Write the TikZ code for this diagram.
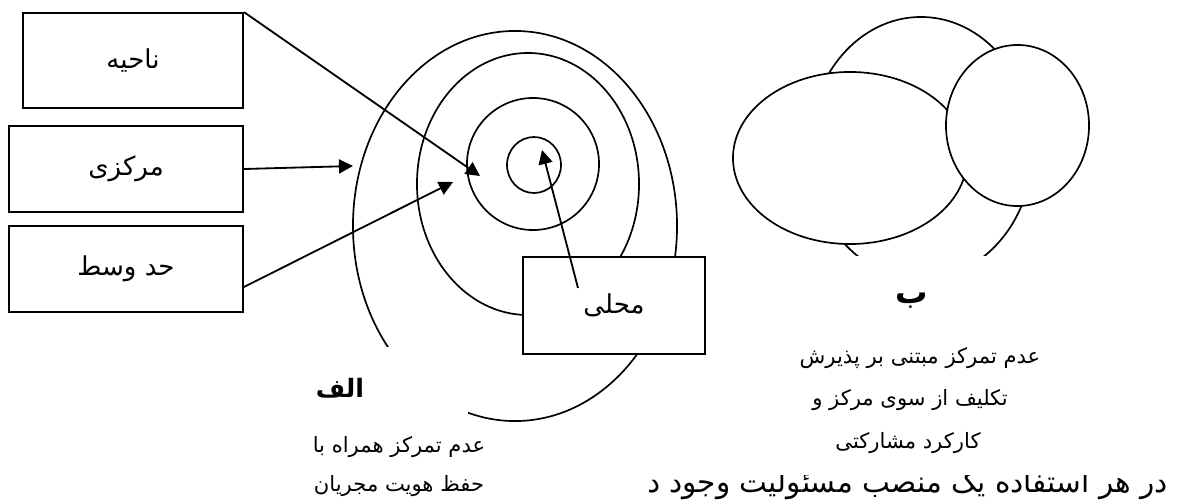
\documentclass[tikz,border=0pt]{standalone}
\usepackage{fontspec}
\usepackage{tikz}
\usetikzlibrary{arrows.meta, calc}
\TeXXeTstate=1
\newfontfamily\persianfont[Script=Arabic]{DejaVu Sans}
\tikzset{
  boxnode/.style={rectangle, draw=black, fill=white, line width=1.3pt,
    font=\persianfont\fontsize{18.5}{22}\selectfont},
  ring/.style={draw=black, line width=1.2pt},
  blob/.style={draw=black, fill=white, line width=1.2pt},
  arrow/.style={-{Triangle[length=10pt,width=10pt]}, line width=1.3pt, color=black},
  caption/.style={font=\persianfont\fontsize{15}{18}\selectfont, inner sep=0pt},
  bigcaption/.style={font=\persianfont\fontsize{21}{24}\selectfont, inner sep=0pt},
  title/.style={font=\persianfont\bfseries\fontsize{18}{20}\selectfont, inner sep=0pt}
}

\begin{document}
\begin{tikzpicture}[x=0.025cm, y=-0.025cm]
  \useasboundingbox (0,0) rectangle (1177,500);
  % Rings (alef)
  \draw[ring] (515,226) ellipse [x radius=4.05cm, y radius=4.875cm];
  \draw[ring] (528,184) ellipse [x radius=2.775cm, y radius=3.275cm];
  \draw[ring] (533,164) circle [radius=1.65cm];
  \draw[ring] (534,165) ellipse [x radius=0.675cm, y radius=0.7cm];
  \fill[white] (270,347) rectangle (468,500);
  % Blobs (be)
  \draw[ring] (921,148) ellipse [x radius=2.8cm, y radius=3.275cm];
  \fill[white] (760,256) rectangle (1120,500);
  \draw[blob] (850,158) ellipse [x radius=2.925cm, y radius=2.15cm];
  \draw[blob] (1017.5,125.5) ellipse [x radius=1.7875cm, y radius=2.0125cm];
  % Boxes
  \node[boxnode, minimum width=5.5cm, minimum height=2.375cm] (nahiye) at (133,60.5) {\beginR ناحیه\endR};
  \node[boxnode, minimum width=5.85cm, minimum height=2.15cm] (markazi) at (126,169) {\beginR مرکزی\endR};
  \node[boxnode, minimum width=5.85cm, minimum height=2.15cm] (hadvasat) at (126,269) {\beginR حد وسط\endR};
  \node[boxnode, minimum width=4.55cm, minimum height=2.425cm] (mahalli) at (614,305.5) {\beginR محلی\endR};
  % Arrows
  \coordinate (nahiyeTip) at (480,176);
  \coordinate (markaziTip) at (353,166);
  \coordinate (hadvasatTip) at (453,182);
  \coordinate (mahalliFrom) at (578,288);
  \coordinate (mahalliTip) at (542,150);
  \draw[arrow] (nahiye.north east) -- (nahiyeTip);
  \draw[arrow] (markazi.east) -- (markaziTip);
  \draw[arrow] ($(hadvasat.east)+(0,18)$) -- (hadvasatTip);
  \draw[arrow] (mahalliFrom) -- (mahalliTip);
  % Captions
  \node[title] (alef) at (340,388) {\beginR الف\endR};
  \node[caption] (alefA) at (399,447) {\beginR عدم تمرکز همراه با\endR};
  \node[caption] (alefB) at (399,486) {\beginR حفظ هویت مجریان\endR};
  \node[title, font=\persianfont\bfseries\fontsize{23}{26}\selectfont] (be) at (912,301) {\beginR ب\endR};
  \node[caption] (beA) at (920,358) {\beginR عدم تمرکز مبتنی بر پذیرش\endR};
  \node[caption] (beB) at (910,400) {\beginR تکلیف از سوی مرکز و\endR};
  \node[caption] (beC) at (908,443) {\beginR کارکرد مشارکتی\endR};
  \begin{scope}
    \clip (649,475) rectangle (1177,500);
    \node[bigcaption, anchor=base east] (tail) at (1168,492) {\beginR در هر استفاده یک منصب مسئولیت وجود دارد\endR};
  \end{scope}
\end{tikzpicture}
\end{document}
